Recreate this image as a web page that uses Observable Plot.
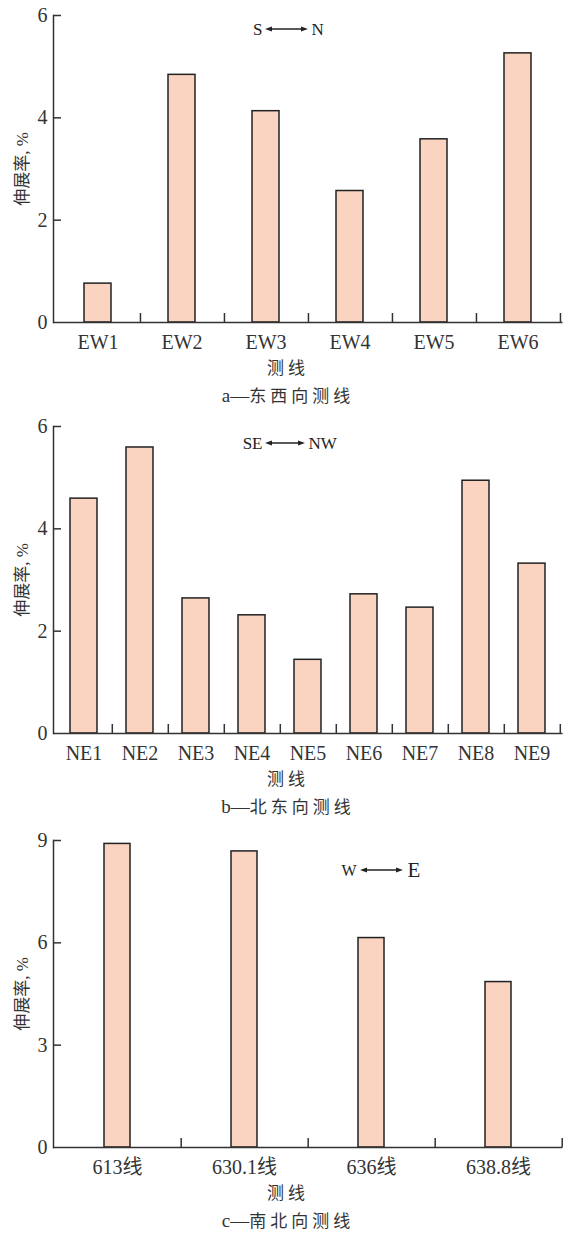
<!DOCTYPE html>
<html>
<head>
<meta charset="utf-8">
<script src="https://cdn.jsdelivr.net/npm/d3@7"></script>
<script src="https://cdn.jsdelivr.net/npm/@observablehq/plot@0.6"></script>
<style>
  body { margin: 0; background: #fff; }
  #root { position: relative; width: 564px; height: 1235px; overflow: hidden;
          font-family: "Times New Roman", "Liberation Serif", "Noto Sans CJK SC", serif; color: #333; }
  #root svg { position: absolute; left: 0; }
  .lbl { position: absolute; left: 0; width: 576px; text-align: center; font-size: 17px;
         line-height: 20px; letter-spacing: 4px; color: #333; white-space: nowrap; }
  .lbl .tight { letter-spacing: 0; font-size: 19px; }
</style>
</head>
<body>
<div id="root"></div>
<script>
// ---- data ----
const catsA = ["EW1", "EW2", "EW3", "EW4", "EW5", "EW6"];
const valsA = [0.76, 4.84, 4.13, 2.57, 3.58, 5.26];
const ticksA = [0, 2, 4, 6];

const catsB = ["NE1", "NE2", "NE3", "NE4", "NE5", "NE6", "NE7", "NE8", "NE9"];
const valsB = [4.59, 5.59, 2.64, 2.31, 1.44, 2.72, 2.46, 4.94, 3.32];
const ticksB = [0, 2, 4, 6];

const catsC = ["613线", "630.1线", "636线", "638.8线"];
const valsC = [8.90, 8.68, 6.14, 4.85];
const ticksC = [0, 3, 6, 9];

const yLabel = "伸展率, %";
const xLabel = "测线";
const captionKeys = ["a—", "b—", "c—"];
const captionTexts = ["东西向测线", "北东向测线", "南北向测线"];
const dirsA = ["S", "N"];
const dirsB = ["SE", "NW"];
const dirsC = ["W", "E"];

// ---- layout ----
const FONT = '"Times New Roman", "Liberation Serif", "Noto Sans CJK SC", serif';
const W = 564, mL = 53, mR = 1.5, mT = 15, plotH = 307, mB = 45;
const FILL = "#fbd3c1", INK = "#333";
const root = document.getElementById("root");

function panel({cats, vals, ticks, barFrac, dirs, top, arrow, dirSizes}) {
  const n = cats.length;
  const innerW = W - mL - mR;
  const step = innerW / n;
  const yMax = ticks[ticks.length - 1];
  const data = cats.map((c, i) => ({cat: c, v: vals[i]}));
  const pi = 1 - barFrac;
  const [ax, aw, ay, gap] = arrow;

  const arrowMark = (index, scales, values, dims) => {
    const g = d3.create("svg:g").attr("stroke", "#222").attr("fill", "#222");
    const x1 = dims.marginLeft + ax, x2 = x1 + aw, y = dims.marginTop + ay;
    g.append("line").attr("x1", x1 + 3).attr("x2", x2 - 3).attr("y1", y).attr("y2", y)
      .attr("stroke-width", 1.3);
    g.append("path").attr("stroke", "none")
      .attr("d", `M${x1},${y}L${x1 + 7},${y - 2.6}L${x1 + 7},${y + 2.6}Z`);
    g.append("path").attr("stroke", "none")
      .attr("d", `M${x2},${y}L${x2 - 7},${y - 2.6}L${x2 - 7},${y + 2.6}Z`);
    return g.node();
  };

  const svg = Plot.plot({
    width: W, height: mT + plotH + mB,
    marginLeft: mL, marginRight: mR, marginTop: mT, marginBottom: mB,
    style: {fontFamily: FONT, color: INK, background: "transparent", overflow: "visible"},
    x: {domain: cats, paddingInner: pi, paddingOuter: pi / 2, align: 0.5, axis: null},
    y: {domain: [0, yMax], axis: null},
    marks: [
      Plot.barY(data, {x: "cat", y: "v", fill: FILL, stroke: "#222", strokeWidth: 1.5}),
      Plot.ruleX(cats, {x: d => d, y1: 0, y2: yMax * 9 / plotH, dx: step / 2, stroke: INK, strokeWidth: 1.5}),
      Plot.ruleY(ticks.slice(1), {y: d => d, insetRight: innerW - 8, stroke: INK, strokeWidth: 1.5}),
      Plot.frame({anchor: "left", stroke: INK, strokeWidth: 1.5}),
      Plot.ruleY([0], {stroke: INK, strokeWidth: 1.5}),
      Plot.axisX({tickSize: 0, tickPadding: 12, fontSize: 20, label: null, fill: INK, fontFamily: FONT}),
      Plot.axisY(ticks, {tickSize: 0, tickPadding: 6, fontSize: 20, label: null, fill: INK,
        fontFamily: FONT, tickFormat: d => String(d)}),
      Plot.text([yLabel], {frameAnchor: "left", textAnchor: "middle", lineAnchor: "middle",
        rotate: -90, dx: -31, fontSize: 17, fill: INK, fontFamily: FONT, letterSpacing: 1.5}),
      Plot.text([dirs[0]], {frameAnchor: "top-left", textAnchor: "end", lineAnchor: "middle",
        dx: ax - gap, dy: ay, fontSize: dirSizes[0], fill: "#222", fontFamily: FONT}),
      Plot.text([dirs[1]], {frameAnchor: "top-left", textAnchor: "start", lineAnchor: "middle",
        dx: ax + aw + gap, dy: ay, fontSize: dirSizes[1], fill: "#222", fontFamily: FONT}),
      arrowMark
    ]
  });
  svg.style.top = top + "px";
  root.appendChild(svg);

  const zero = top + mT + plotH;
  const l1 = document.createElement("div");
  l1.className = "lbl"; l1.textContent = xLabel; l1.style.top = (zero + 47 - 10) + "px";
  root.appendChild(l1);
  return zero;
}

const z1 = panel({cats: catsA, vals: valsA, ticks: ticksA, barFrac: 0.32, dirs: dirsA,
  top: 0, arrow: [212, 43, 14, 3], dirSizes: [17, 17]});
const z2 = panel({cats: catsB, vals: valsB, ticks: ticksB, barFrac: 0.48, dirs: dirsB,
  top: 411, arrow: [212, 40, 17, 3], dirSizes: [17, 17]});
const z3 = panel({cats: catsC, vals: valsC, ticks: ticksC, barFrac: 0.208, dirs: dirsC,
  top: 825, arrow: [307, 43, 30, 4], dirSizes: [16, 21]});

[z1, z2, z3].forEach((z, i) => {
  const c = document.createElement("div");
  c.className = "lbl"; c.style.top = (z + 74 - 10) + "px";
  const k = document.createElement("span");
  k.className = "tight"; k.textContent = captionKeys[i];
  c.appendChild(k);
  c.appendChild(document.createTextNode(captionTexts[i]));
  root.appendChild(c);
});
</script>
</body>
</html>
